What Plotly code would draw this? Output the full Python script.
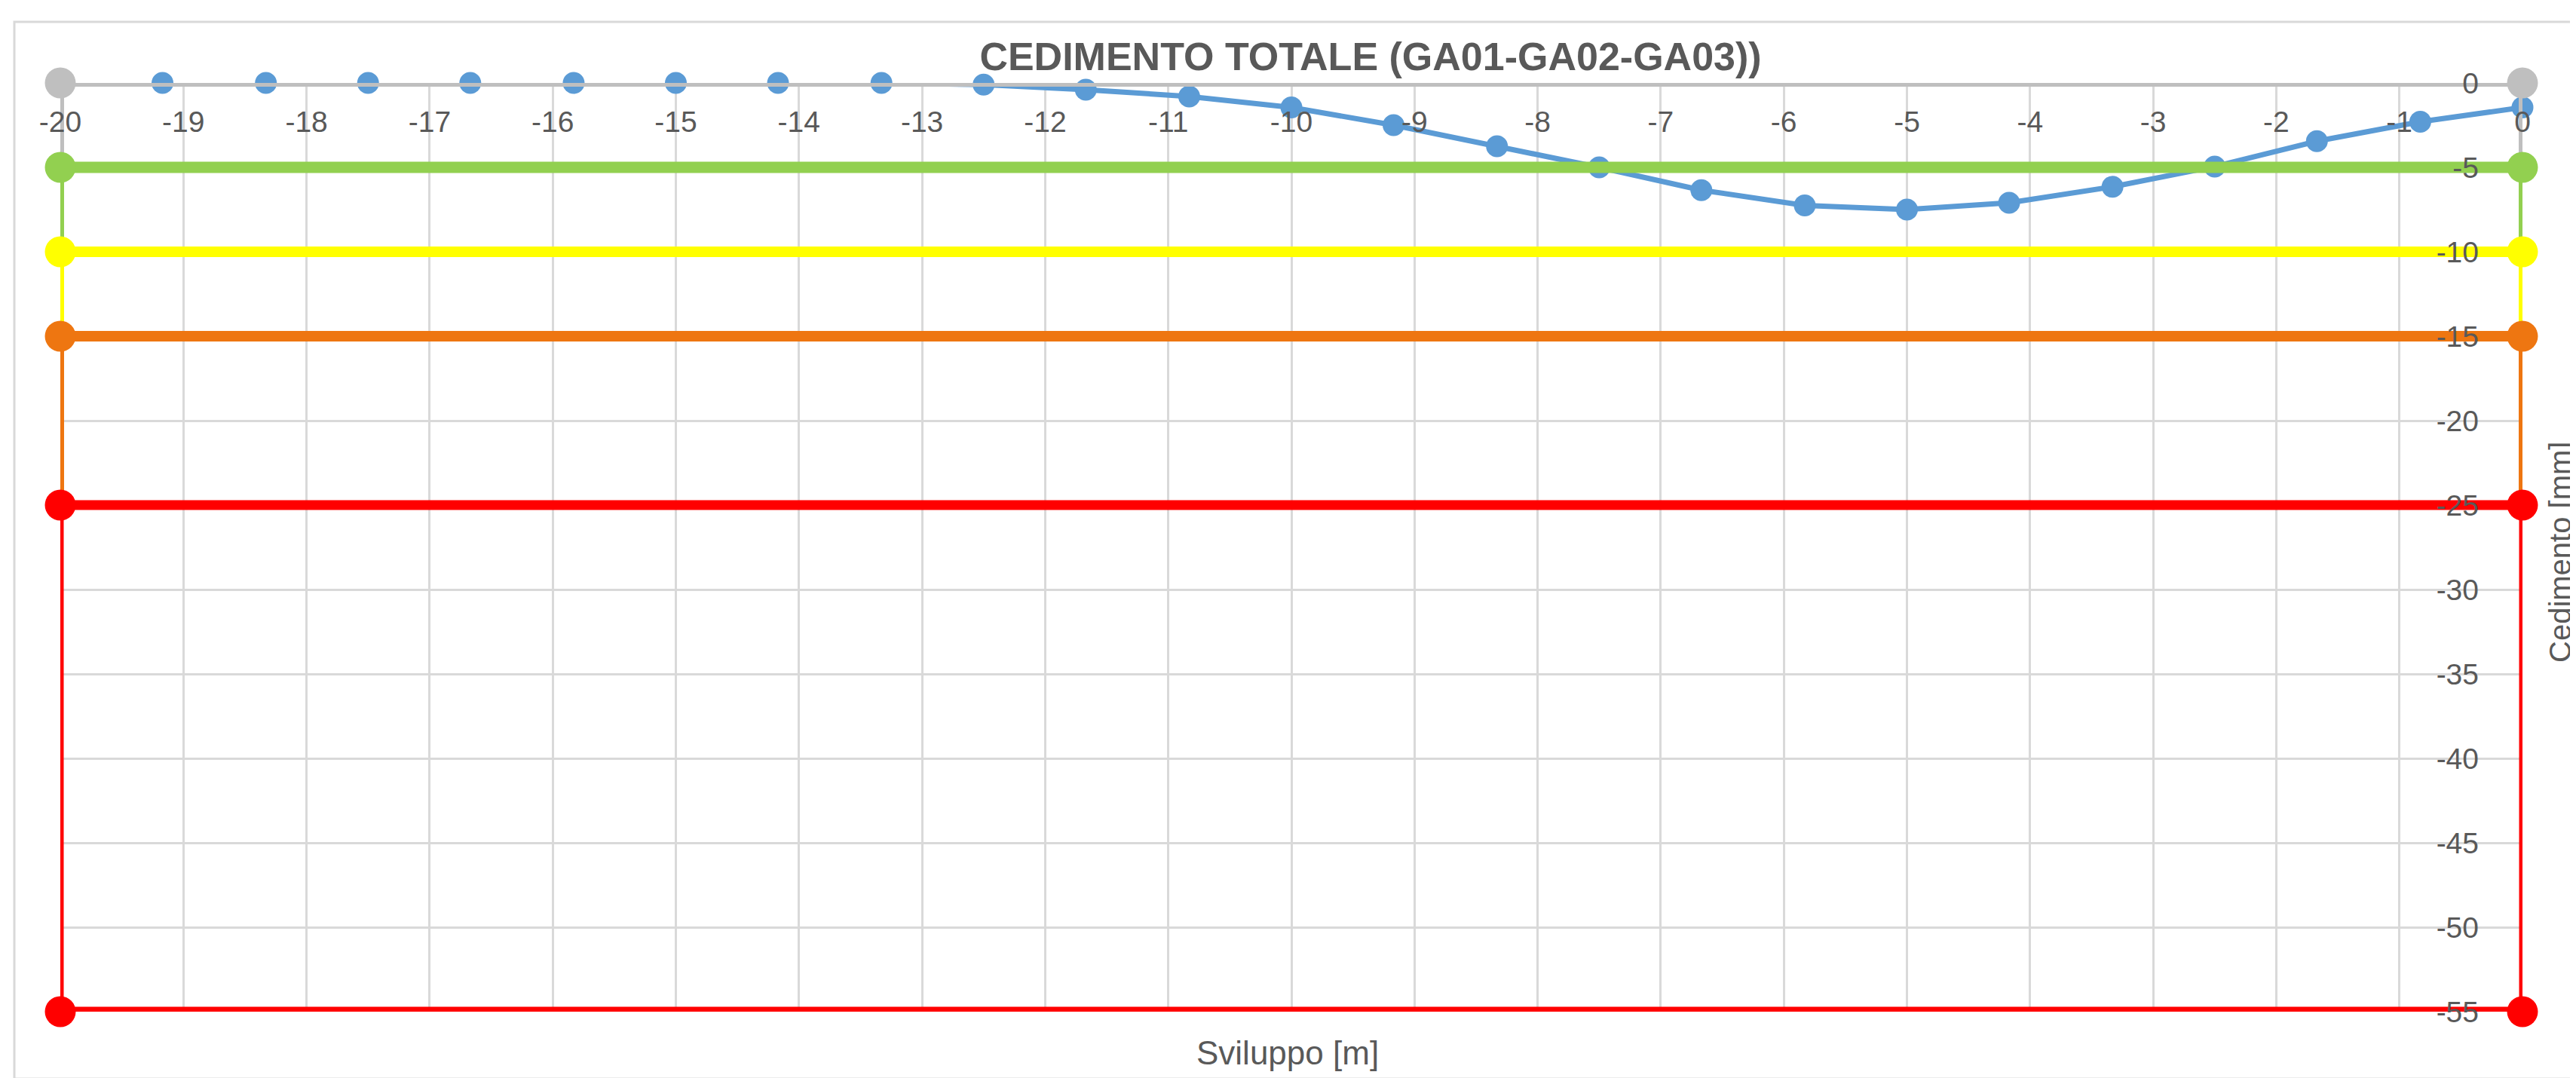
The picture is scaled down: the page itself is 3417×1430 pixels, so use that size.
import plotly.graph_objects as go

# ---------------- data ----------------
sviluppo = [-19.17, -18.33, -17.5, -16.67, -15.83, -15.0, -14.17, -13.33, -12.5, -11.67,
            -10.83, -10.0, -9.17, -8.33, -7.5, -6.67, -5.83, -5.0, -4.17, -3.33,
            -2.5, -1.67, -0.83, 0.0]
cedimento = [0.0, 0.0, 0.0, 0.0, 0.0, 0.0, 0.0, 0.0, -0.1, -0.4,
             -0.8, -1.45, -2.5, -3.75, -5.0, -6.35, -7.25, -7.5, -7.1, -6.15,
             -4.95, -3.45, -2.3, -1.45]

soglie_livello = [0, -5, -10, -15, -25]
soglie_fondo = -55
soglie_colori = ["#BFBFBF", "#92D050", "#FFFF00", "#EE7611", "#FF0000"]
soglie_spessore = [10, 15, 14, 14, 13]

x_estremi = [-20, 0]
x_ticks = [-20, -19, -18, -17, -16, -15, -14, -13, -12, -11, -10,
           -9, -8, -7, -6, -5, -4, -3, -2, -1, 0]
x_ticktext = ["-20", "-19", "-18", "-17", "-16", "-15", "-14", "-13", "-12", "-11", "-10",
              "-9", "-8", "-7", "-6", "-5", "-4", "-3", "-2", "-1", "0"]
y_ticks = [0, -5, -10, -15, -20, -25, -30, -35, -40, -45, -50, -55]
y_ticktext = ["0", "-5", "-10", "-15", "-20", "-25", "-30", "-35", "-40", "-45", "-50", "-55"]

titolo = "CEDIMENTO TOTALE (GA01-GA02-GA03))"
titolo_x = "Sviluppo [m]"
titolo_y = "Cedimento [mm]"

# ---------------- figure ----------------
W, H = 3417, 1430
ML, MR, MT, MB = 72, 79, 102, 96
TXT = "#595959"
FONT = "Liberation Sans, Arial, sans-serif"

fig = go.Figure()

# measured series (drawn below thresholds)
fig.add_trace(go.Scatter(
    x=sviluppo, y=cedimento, mode="lines+markers",
    line=dict(color="#5B9BD5", width=7),
    marker=dict(color="#5B9BD5", size=29),
    cliponaxis=False, showlegend=False, name="Cedimento"))

# threshold frames
x0, x1 = x_estremi
for i, (lvl, col, lw) in enumerate(zip(soglie_livello, soglie_colori, soglie_spessore)):
    nxt = soglie_livello[i + 1] if i + 1 < len(soglie_livello) else soglie_fondo
    fig.add_trace(go.Scatter(
        x=[x0, x0, None, x1, x1], y=[lvl, nxt, None, lvl, nxt], mode="lines",
        line=dict(color=col, width=10 if i < 4 else 9),
        cliponaxis=False, showlegend=False, hoverinfo="skip"))
    hl = [lvl] if i + 1 < len(soglie_livello) else [lvl, soglie_fondo]
    for h in hl:
        fig.add_trace(go.Scatter(
            x=[x0, x1], y=[h, h], mode="lines+markers",
            line=dict(color=col, width=lw),
            marker=dict(color=col, size=41),
            cliponaxis=False, showlegend=False))

fig.update_xaxes(
    range=[x0, x1], side="top", tickvals=x_ticks, ticktext=x_ticktext,
    ticklabelposition="inside", ticklabelstandoff=35, ticklabeloverflow="allow",
    ticks="", showline=False, zeroline=False,
    showgrid=True, gridcolor="#D9D9D9", gridwidth=3,
    tickfont=dict(family=FONT, size=39, color=TXT))

fig.update_yaxes(
    range=[soglie_fondo, 0], side="right", tickvals=y_ticks, ticktext=y_ticktext,
    ticklabelposition="inside", ticklabelstandoff=55, ticklabeloverflow="allow",
    ticks="", showline=False, zeroline=False,
    showgrid=True, gridcolor="#D9D9D9", gridwidth=3,
    tickfont=dict(family=FONT, size=39, color=TXT))

pw = W - ML - MR
ph = H - MT - MB

# chart outer border
fig.add_shape(type="rect", xref="paper", yref="paper",
              x0=(11 - ML) / pw, x1=(3425 - ML) / pw,
              y0=(H - MB - 1423) / ph, y1=(H - MB - 21) / ph,
              line=dict(color="#D9D9D9", width=3), layer="below")

fig.add_annotation(
    text=titolo_x, xref="paper", yref="paper",
    x=(1700 - ML) / pw, y=(H - MB - 1388) / ph,
    xanchor="center", yanchor="middle", showarrow=False,
    font=dict(family=FONT, size=44, color=TXT))

fig.add_annotation(
    text=titolo_y, xref="paper", yref="paper", textangle=-90,
    x=(3412 - ML) / pw, y=(H - MB - 725) / ph,
    xanchor="right", yanchor="middle", showarrow=False,
    font=dict(family=FONT, size=40, color=TXT))

fig.update_layout(
    width=W, height=H,
    margin=dict(l=ML, r=MR, t=MT, b=MB),
    paper_bgcolor="white", plot_bgcolor="white",
    title=dict(text="<b>" + titolo + "</b>", x=(1810 - ML) / pw, xref="paper",
               xanchor="center", y=1 - 67 / H, yref="container", yanchor="middle",
               font=dict(family=FONT, size=52, color=TXT)),
    showlegend=False)

fig.write_html("out.html")
